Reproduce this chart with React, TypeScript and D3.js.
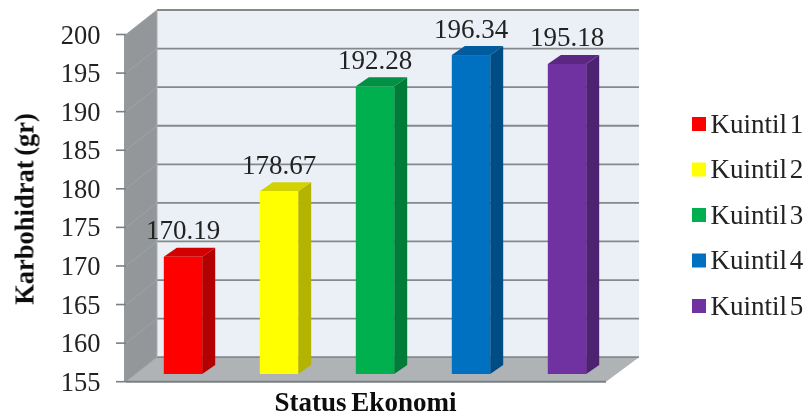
import { useRef, useEffect } from 'react';
import * as d3 from 'd3';

const WIDTH = 809;
const HEIGHT = 415;
const FONT = '"Liberation Serif", "Times New Roman", serif';

const categories = ['Kuintil 1', 'Kuintil 2', 'Kuintil 3', 'Kuintil 4', 'Kuintil 5'];
const values = [170.19, 178.67, 192.28, 196.34, 195.18];
const colors = ['#ff0000', '#ffff00', '#00b050', '#0070c0', '#7030a0'];
const yTicks = [155, 160, 165, 170, 175, 180, 185, 190, 195, 200];

const App = () => {
	const ref = useRef<SVGSVGElement>(null);

	useEffect(() => {
		const svg = d3.select(ref.current);
		svg.selectAll('*').remove();

		const x = d3.scaleBand<string>().domain(categories).range([126, 606]).paddingInner(0.6).paddingOuter(0.3);
		const y = d3.scaleLinear().domain([155, 200]).range([381.7, 34.5]);

		// oblique offsets of the fake 3d box
		const depth = { x: 31, y: -24.5 };
		const barOffset = { x: 9, y: -7.7 };
		const barDepth = { x: 13, y: -9 };
		const GRID = '#85898c';

		const defs = svg.append('defs');
		defs.append('filter').attr('id', 'soft')
			.append('feGaussianBlur').attr('stdDeviation', 0.5);

		const root = svg.append('g').attr('filter', 'url(#soft)');
		const x0 = 126;
		const x1 = 606;
		const bottom = y(155);
		const top = y(200);
		const poly = (pts: [number, number][]) => d3.line()(pts) + 'Z';

		// back wall
		root.append('path')
			.attr('fill', '#ebf0f6')
			.attr('d', poly([[x0 + depth.x, top + depth.y], [x1 + depth.x + 2, top + depth.y], [x1 + depth.x + 2, bottom + depth.y], [x0 + depth.x, bottom + depth.y]]));

		// left wall
		root.append('path')
			.attr('fill', '#93979a')
			.attr('d', poly([[x0, top], [x0 + depth.x, top + depth.y], [x0 + depth.x, bottom + depth.y], [x0, bottom]]));

		// floor
		root.append('path')
			.attr('fill', '#b0b3b6')
			.attr('d', poly([[x0, bottom], [x0 + depth.x, bottom + depth.y], [x1 + depth.x + 2, bottom + depth.y], [x1, bottom]]));

		// gridlines on both walls and axis ticks
		yTicks.forEach(t => {
			root.append('line')
				.attr('x1', x0 + depth.x).attr('x2', x1 + depth.x + 2)
				.attr('y1', y(t) + depth.y).attr('y2', y(t) + depth.y)
				.attr('stroke', GRID).attr('stroke-width', 1.8);
			root.append('line')
				.attr('x1', x0).attr('x2', x0 + depth.x)
				.attr('y1', y(t)).attr('y2', y(t) + depth.y)
				.attr('stroke', '#9fa3a6').attr('stroke-width', 1);
			root.append('line')
				.attr('x1', 116).attr('x2', x0)
				.attr('y1', y(t)).attr('y2', y(t))
				.attr('stroke', '#7b7f82').attr('stroke-width', 1.6);
			root.append('text')
				.attr('x', 100.5).attr('y', y(t) + 9)
				.attr('text-anchor', 'end')
				.attr('font-family', FONT).attr('font-size', 26.5).attr('fill', '#222')
				.text(t);
		});

		// axis lines
		root.append('line').attr('x1', x0 - 1).attr('x2', x0 - 1).attr('y1', top).attr('y2', bottom)
			.attr('stroke', '#7b7f82').attr('stroke-width', 1.6);
		root.append('line').attr('x1', x0).attr('x2', x1).attr('y1', bottom).attr('y2', bottom)
			.attr('stroke', '#7b7f82').attr('stroke-width', 2);
		root.append('line').attr('x1', x0 + depth.x).attr('x2', x0 + depth.x).attr('y1', top + depth.y).attr('y2', bottom + depth.y)
			.attr('stroke', '#a9adb0').attr('stroke-width', 1);

		// bars
		categories.forEach((c, i) => {
			const left = x(c)! + barOffset.x;
			const right = left + x.bandwidth();
			const base = bottom + barOffset.y;
			const h = y(155) - y(values[i]);
			const yTop = base - h;
			const col = d3.rgb(colors[i]);

			const g = root.append('g');
			g.append('path').attr('fill', col.darker(1).formatHex())
				.attr('d', poly([[right, yTop], [right + barDepth.x, yTop + barDepth.y], [right + barDepth.x, base + barDepth.y], [right, base]]));
			g.append('path').attr('fill', col.darker(0.55).formatHex())
				.attr('d', poly([[left, yTop], [left + barDepth.x, yTop + barDepth.y], [right + barDepth.x, yTop + barDepth.y], [right, yTop]]));
			g.append('rect').attr('x', left).attr('y', yTop).attr('width', x.bandwidth()).attr('height', h)
				.attr('fill', colors[i]);

			root.append('text')
				.attr('x', (left + right) / 2).attr('y', yTop - 17.5)
				.attr('text-anchor', 'middle')
				.attr('font-family', FONT).attr('font-size', 27).attr('fill', '#222')
				.text(values[i].toFixed(2));
		});

		// axis titles
		root.append('text')
			.attr('x', 365.5).attr('y', 410.5)
			.attr('text-anchor', 'middle')
			.attr('font-family', FONT).attr('font-size', 27).attr('font-weight', 'bold').attr('fill', '#111')
			.attr('word-spacing', -2)
			.text('Status Ekonomi');
		root.append('text')
			.attr('transform', 'translate(33.5,209) rotate(-90)')
			.attr('text-anchor', 'middle')
			.attr('font-family', FONT).attr('font-size', 26.5).attr('font-weight', 'bold').attr('fill', '#111')
			.attr('word-spacing', -2)
			.text('Karbohidrat (gr)');

		// legend
		const legendY = d3.scalePoint<string>().domain(categories).range([124, 306]);
		categories.forEach((c, i) => {
			const ly = legendY(c)!;
			root.append('rect').attr('x', 692).attr('y', ly - 7).attr('width', 14).attr('height', 14).attr('fill', colors[i]);
			root.append('text')
				.attr('x', 710.5).attr('y', ly + 8.5)
				.attr('font-family', FONT).attr('font-size', 27).attr('fill', '#222')
				.attr('word-spacing', -4)
				.text(c);
		});
	}, []);

	return (
		<svg
			ref={ref}
			width={WIDTH}
			height={HEIGHT}
			style={{ position: 'absolute', left: 0, top: 0, background: '#fff' }}
		/>
	);
};

export default App;
